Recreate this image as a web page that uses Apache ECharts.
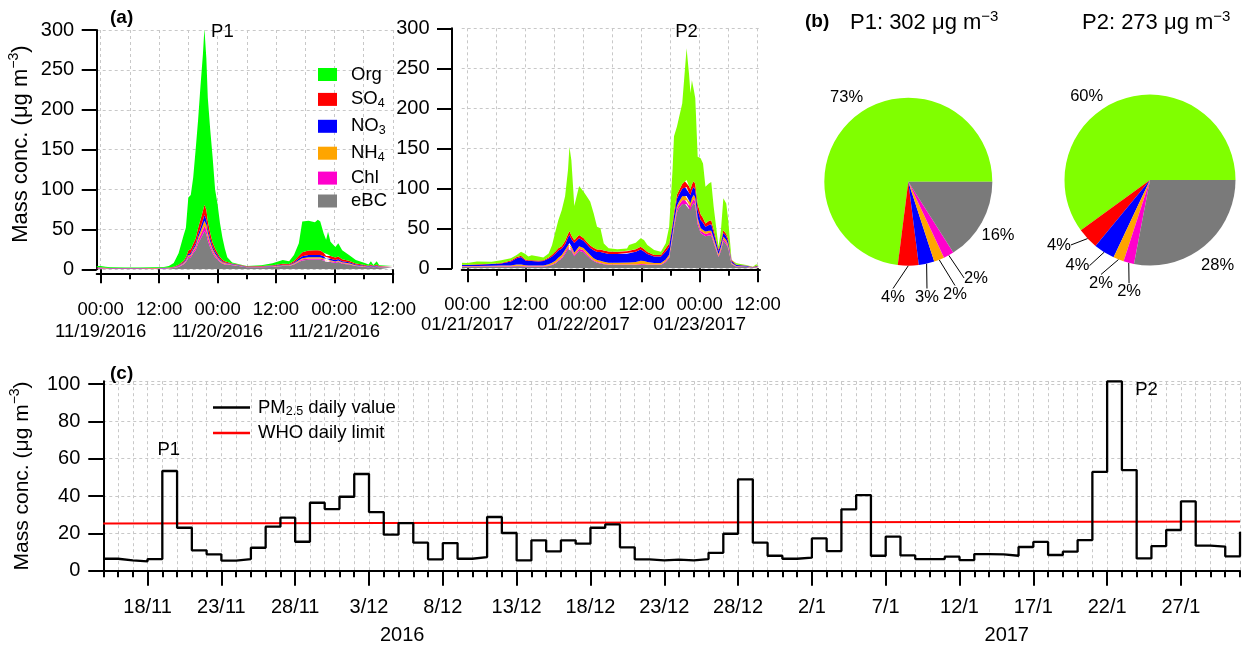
<!DOCTYPE html>
<html>
<head>
<meta charset="utf-8">
<script src="https://cdn.jsdelivr.net/npm/echarts@6/dist/echarts.min.js"></script>
<style>
  html, body { margin: 0; padding: 0; background: #fff; }
  #chart { width: 1242px; height: 647px; }
</style>
</head>
<body>
<div id="chart"></div>
<script>
// ---------------- data ----------------
// (a) P1 episode: hours after 11/19/2016 00:00, species in µg m-3
const hoursP1 = [-0.8, 0, 1, 2, 5, 8, 11, 13, 14, 15, 16, 17, 17.5, 18, 18.5, 19, 19.5, 20, 20.5, 21, 21.3, 21.7, 22, 22.5, 23, 23.5, 24, 24.5, 25, 25.5, 26, 27, 28, 30, 33, 35.3, 37.4, 38.7, 39.7, 40.7, 41.4, 42.7, 44, 44.6, 45.1, 45.8, 46.3, 46.7, 47.2, 48.2, 48.8, 49.6, 51, 52.4, 54.4, 55, 55.5, 56, 56.7, 57.2, 60];
const p1_eBC = [1.0, 1.0, 0.8, 0.6, 0.6, 0.6, 0.7, 0.8, 1.0, 1.5, 3, 6, 9, 14, 15, 20, 24, 32, 38, 44, 48, 44, 36, 27, 20, 15, 12, 9, 7, 6, 6, 5, 4.5, 2.5, 2.5, 3, 4, 4, 6, 9, 11, 12, 12, 12, 12, 11, 9, 10, 9, 8, 9, 7, 6, 4, 3, 2.5, 3, 2.5, 3, 2.5, 2.5];
const p1_Chl = [0.6, 0.6, 0.5, 0.4, 0.4, 0.4, 0.4, 0.4, 0.4, 0.5, 0.7, 1, 1.5, 2, 2, 2.5, 3, 4, 5, 6, 6.5, 6, 5, 4, 3, 2.5, 2, 1.5, 1, 1, 0.8, 0.6, 0.4, 0.3, 0.4, 0.5, 0.6, 0.6, 0.8, 1.2, 1.5, 1.5, 1.5, 1.5, 1.5, 1.5, 1.2, 1.3, 1.2, 1, 1.1, 0.9, 0.8, 0.6, 0.5, 0.4, 0.5, 0.4, 0.5, 0.4, 0.4];
const p1_NH4 = [0.2, 0.2, 0.2, 0.1, 0.1, 0.1, 0.1, 0.1, 0.2, 0.3, 0.5, 0.8, 1, 1.5, 1.5, 2, 2.5, 3.5, 4.5, 5.5, 6.5, 6, 5, 3.5, 2.5, 2, 1.5, 1, 1, 0.8, 0.6, 0.4, 0.3, 0.2, 0.3, 0.4, 0.5, 0.5, 0.7, 1.2, 1.5, 1.5, 1.5, 1.5, 1.5, 1.3, 1, 1.2, 1, 0.9, 1, 0.8, 0.7, 0.5, 0.4, 0.3, 0.4, 0.3, 0.4, 0.3, 0.3];
const p1_NO3 = [0.3, 0.3, 0.2, 0.2, 0.2, 0.2, 0.2, 0.2, 0.3, 0.4, 0.6, 1, 1.5, 2, 2, 2.5, 3, 4, 5, 6, 7, 6.5, 5, 4, 3, 2.5, 2, 1.5, 1, 0.8, 0.6, 0.5, 0.4, 0.3, 0.4, 0.5, 0.7, 0.6, 1, 2, 2.5, 3, 3, 3, 3, 2.5, 2, 2.2, 2, 1.8, 1.8, 1.5, 1.2, 0.8, 0.6, 0.5, 0.8, 0.5, 0.8, 0.4, 0.4];
const p1_SO4 = [0.4, 0.4, 0.3, 0.2, 0.2, 0.2, 0.2, 0.3, 0.3, 0.5, 0.8, 1.5, 2, 4, 4.5, 5, 6, 8, 10, 12, 13, 12, 10, 7, 5, 4, 3, 2.5, 2, 1.5, 1.2, 0.8, 0.6, 0.4, 0.5, 0.8, 1.2, 1, 1.8, 3.5, 5, 5.5, 6, 6, 5.5, 4.5, 3.5, 4, 3.5, 3, 3.2, 2.5, 2, 1.4, 1, 0.8, 1.3, 0.8, 1.3, 0.6, 0.6];
const p1_Org = [1.5, 1.5, 1.2, 1.0, 0.9, 0.9, 1.0, 1.2, 1.8, 4.8, 14.4, 31.7, 37, 66.5, 68, 83, 111.5, 135.5, 167.5, 196.5, 221, 190.5, 154, 129.5, 106.5, 74, 61.5, 42.5, 28, 15.9, 5.8, 1.2, 0.8, 0.3, 0.9, 2.3, 4.6, 3.3, 7.7, 15.7, 38.5, 37.5, 35, 38, 36.5, 24.2, 20.3, 28.3, 17.9, 13.3, 16.5, 11.3, 7.3, 4.3, 2, 1.5, 4, 1, 4, 0.8, 0.3];

// (a) P2 episode: hours after 01/21/2017 00:00
const hoursP2 = [-1.1, 0, 2, 5, 7, 9, 10.2, 11.1, 12, 12.6, 13.3, 14.7, 15.7, 16.8, 17.5, 18.2, 18.8, 19.5, 20.2, 20.8, 21.1, 21.5, 22.1, 23.1, 24, 24.7, 25.4, 26.1, 26.8, 27.5, 28.2, 29.2, 31, 33, 33.4, 34.8, 35.8, 36.5, 37.2, 38.6, 40, 41, 41.7, 42.4, 42.7, 43.3, 43.7, 44.4, 44.9, 45.3, 45.8, 46.1, 46.4, 46.8, 47.1, 47.6, 48.2, 48.7, 49.2, 49.9, 50.4, 50.9, 51.9, 52.4, 52.9, 53.5, 53.9, 54.6, 55.6, 57.6, 59, 59.7, 60.2];
const p2_eBC = [2, 2, 2, 2, 2, 2, 2.5, 2.5, 2, 2, 2, 2, 2, 3, 4, 6, 9, 12, 18, 24, 26, 22, 15, 22, 20, 16, 12, 9, 7, 6, 5, 4, 4, 4, 4, 4, 4.5, 4.5, 4, 4, 4, 8, 13, 38, 50, 70, 75, 80, 81, 80, 74, 72, 78, 82, 78, 55, 44, 42, 40, 41, 41, 32, 14, 22, 34, 30, 25, 5, 2, 1.5, 0.5, 1, 0.8];
const p2_Chl = [0.5, 0.5, 0.5, 0.5, 0.5, 0.5, 0.6, 0.6, 0.5, 0.5, 0.5, 0.5, 0.5, 0.6, 0.8, 1, 1.2, 1.5, 2, 2.5, 2.5, 2.5, 2, 2.5, 2.5, 2, 1.5, 1.2, 1, 1, 0.8, 0.8, 0.8, 0.8, 0.8, 0.8, 1, 1, 0.8, 0.6, 0.6, 1, 1.5, 2.5, 3, 4, 4, 5, 5, 5, 4.5, 4.5, 5, 5, 5, 4, 3, 3, 3, 3, 3, 2.5, 1.5, 2, 2.5, 2.5, 2, 0.8, 0.5, 0.4, 0.2, 0.3, 0.2];
const p2_NH4 = [0.5, 0.5, 0.5, 0.8, 1, 1, 1.5, 1.5, 1.2, 1, 1, 1, 1, 1.5, 2, 2.5, 3, 3, 3, 3, 3, 3, 2.5, 3, 3, 3, 3, 2.5, 2.5, 2.5, 2.5, 2.2, 2.2, 2.5, 2.5, 3, 4, 3.5, 3, 2, 2, 2, 2.5, 3, 3.5, 4, 4, 5, 5.5, 5.5, 5, 5, 5, 5, 5, 4, 3.5, 3, 3, 3, 3, 3, 2, 2.5, 3, 3, 2.5, 1, 0.5, 0.4, 0.2, 0.3, 0.2];
const p2_NO3 = [1, 1, 1.5, 2, 2.5, 5, 8, 9.5, 6, 5.5, 5.5, 5, 5.5, 7, 8, 9, 9, 8, 7, 9, 10, 9, 12, 10, 9, 9, 9, 10, 10, 11, 11, 11, 10.8, 11, 12, 13, 14, 12, 10, 8, 8, 10, 10, 9, 9, 9, 9, 9.5, 10.5, 11, 11, 10, 10, 10, 10, 10, 10, 9, 6, 7, 8, 7, 4, 5, 5, 4.5, 4, 2, 1, 0.8, 0.3, 1, 0.5];
const p2_SO4 = [0.5, 0.5, 0.5, 0.5, 0.7, 1.2, 1.5, 1.5, 1.2, 1.2, 1.2, 1.2, 1.2, 1.5, 2, 2.5, 3, 3, 4, 4.5, 5, 4.5, 3.5, 4, 3.5, 3, 3, 3, 3, 3, 3, 3, 2.9, 3, 3, 3, 3.5, 3, 2.5, 2, 2, 4, 4, 4, 4.5, 5, 5, 6, 7, 9, 8, 7, 7, 7, 7, 7, 7, 6, 4, 5, 5, 4, 2, 3, 3, 3, 3, 1.5, 0.5, 0.5, 0.3, 0.5, 0.3];
const p2_Org = [2.5, 2, 3.5, 2.5, 3.5, 3, 2.5, 5, 7, 4.5, 6, 5, 3.2, 5, 12, 25, 35, 45, 56, 80, 105.5, 94, 43, 61.5, 58, 56.6, 54.8, 43, 28.5, 26.5, 8.7, 4, 3, 3.5, 6.7, 8.2, 10.5, 11.4, 8.8, 6.3, 4.2, 6.2, 21, 66.4, 95, 85, 78, 100.5, 135, 164.5, 141, 120.5, 130, 114, 107.5, 59.5, 70, 68, 46, 47, 48, 28.5, 3.5, 13.5, 40, 38, 23.5, 0.1, 1.7, 0.4, 0.5, 2, 1];

// x-axis tick labels of (a): clock time every 12 h, date at each midnight
const clockLabels = ['00:00', '12:00', '00:00', '12:00', '00:00', '12:00'];
const p1DateLabels = ['11/19/2016', '11/20/2016', '11/21/2016'];
const p2DateLabels = ['01/21/2017', '01/22/2017', '01/23/2017'];

// (b) mass fractions (%) of the two peaks
const pieNames = ['Org', 'SO4', 'NO3', 'NH4', 'Chl', 'eBC'];
const pieP1 = [73, 4, 3, 2, 2, 16];
const pieP2 = [60, 4, 4, 2, 2, 28];
const pieTotals = [302, 273];

// (c) daily PM2.5, one value per day from 15/11/2016 to 31/1/2017
const pmDaily = [6.4, 5.5, 5.0, 6.25, 53.4, 23, 10.9, 8.75, 5.4, 6.25, 12.3, 23.6, 28.4, 15.5, 36.4, 33,
  39.6, 51.8, 31.4, 19.3, 25.5, 15, 6.1, 14.8, 6.4, 7.3, 28.75, 20.2, 5.5, 16.25, 10.4, 16.25, 14.5, 23, 24.8, 12.5, 6.1, 5.5, 5.9, 5.5, 6.25, 9.6, 19.8, 48.9, 15, 8, 6.4,
  7, 17.3, 10.5, 32.9, 40.5, 8, 18.2, 8.2, 6.25, 6.25, 7.5, 5.7, 8.9, 8.75, 8, 12.7, 15.4, 8.4, 10.2, 16.4, 52.9, 101.4, 53.9, 6.6, 13.2, 21.8, 37.1, 13.4, 12.9, 7.7, 20.9];
const whoLine = [25.3, 26.3];          // limit line, start and end of the period
const cTickDays = [3, 8, 13, 18, 23, 28, 33, 38, 43, 48, 53, 58, 63, 68, 73];
const cTickLabels = ['18/11', '23/11', '28/11', '3/12', '8/12', '13/12', '18/12', '23/12', '28/12', '2/1', '7/1', '12/1', '17/1', '22/1', '27/1'];
const yearDays = [20.25, 61.2];
const yearLabels = ['2016', '2017'];
const peakDays = [4, 68];

// ---------------- styling helpers ----------------
const FONT = '"Liberation Sans", Arial, Helvetica, sans-serif';
const colors = { Org: '#00ff00', SO4: '#ff0000', NO3: '#0000ff', NH4: '#ffa500', Chl: '#ff00cc', eBC: '#7f7f7f' };
const orgP2Color = '#80ff00';
const pieColors = ['#80ff00', '#ff0000', '#0000ff', '#ffa500', '#ff00cc', '#7a7a7a'];
const A_MAX = 300;

const dashed = { show: true, lineStyle: { color: '#c8c8c8', width: 1, type: [3, 3] } };
const blackLine = { show: true, onZero: false, lineStyle: { color: '#000', width: 2 } };
const noLabelOverlapRules = { showMinLabel: true, showMaxLabel: true, hideOverlap: false };

function subRich(size) {
  return {
    n: { fontFamily: FONT, fontSize: size, lineHeight: 22, color: '#000', fontWeight: 'normal' },
    s: { fontFamily: FONT, fontSize: 12.5, lineHeight: 12, padding: [9, 0, 1, 0], color: '#000', fontWeight: 'normal' }
  };
}
function supRich(size) {
  return {
    n: { fontFamily: FONT, fontSize: size, lineHeight: 28, color: '#000', fontWeight: 'normal' },
    p: { fontFamily: FONT, fontSize: 14, lineHeight: 14, padding: [0, 0, 14, 0], color: '#000', fontWeight: 'normal' }
  };
}
function chemLabel(name) {
  if (name === 'PM2.5 daily value') return '{n|PM}{s|2.5}{n| daily value}';
  const m = name.match(/^(\D+)(\d+)$/);
  return m ? '{n|' + m[1] + '}{s|' + m[2] + '}' : '{n|' + name + '}';
}
const yName = '{n|Mass conc. (μg m}{p|−3}{n|)}';

// hour axes of (a): thin 6 h ticks with grid lines, long 12 h ticks with clock labels, a date row
const shortHours = [0, 6, 12, 18, 24, 30, 36, 42, 48, 54, 60];
const longHours = [0, 12, 24, 36, 48, 60];
const dayHours = [0, 24, 48];
function hourAxes(gridIndex, min, max, dates, offset, clockMargin, dateMargin) {
  const common = { type: 'value', gridIndex, min, max, position: 'bottom', offset };
  return [
    { ...common,
      axisLine: blackLine,
      axisTick: { show: true, length: 6, lineStyle: { color: '#000', width: 2 }, customValues: shortHours },
      axisLabel: { show: false }, splitLine: dashed },
    { ...common,
      axisLine: { show: false },
      axisTick: { show: true, length: 14, lineStyle: { color: '#000', width: 2 }, customValues: longHours },
      axisLabel: { show: true, customValues: longHours, margin: clockMargin, lineHeight: 20, ...noLabelOverlapRules,
        fontFamily: FONT, fontSize: 18.5, color: '#000',
        formatter: v => clockLabels[longHours.indexOf(v)] },
      splitLine: { show: false } },
    { ...common,
      axisLine: { show: false }, axisTick: { show: false },
      axisLabel: { show: true, customValues: dayHours, margin: dateMargin, lineHeight: 20, ...noLabelOverlapRules,
        fontFamily: FONT, fontSize: 18.5, color: '#000',
        formatter: v => dates[dayHours.indexOf(v)] },
      splitLine: { show: false } }
  ];
}

function valueAxisA(gridIndex, offset, withName) {
  const ax = { type: 'value', gridIndex, min: 0, max: A_MAX, interval: 50, position: 'left', offset,
    axisLine: blackLine,
    axisTick: { show: true, length: 15, lineStyle: { color: '#000', width: 2 } },
    axisLabel: { margin: 22.5, fontFamily: FONT, fontSize: 20, color: '#000' },
    splitLine: dashed };
  if (withName) {
    Object.assign(ax, { name: yName, nameLocation: 'middle', nameGap: 62, nameRotate: 90,
      nameTextStyle: { rich: supRich(22), padding: [0, 0, 0, 11] } });
  }
  return ax;
}

const stackOrder = ['eBC', 'Chl', 'NH4', 'NO3', 'SO4', 'Org'];
const p1Data = { eBC: p1_eBC, Chl: p1_Chl, NH4: p1_NH4, NO3: p1_NO3, SO4: p1_SO4, Org: p1_Org };
const p2Data = { eBC: p2_eBC, Chl: p2_Chl, NH4: p2_NH4, NO3: p2_NO3, SO4: p2_SO4, Org: p2_Org };

function totals(hours, d) {
  return hours.map((_, i) => stackOrder.reduce((s, k) => s + d[k][i], 0));
}
// stacked areas; each row is [concentration, hour] so the concentration is the stacked dimension
function areaSeries(hours, d, xi, yi, stack, orgColor, peakLabel, peakOffset) {
  const tot = totals(hours, d);
  let pk = 0;
  tot.forEach((v, i) => { if (v > tot[pk]) pk = i; });
  return stackOrder.map(name => {
    const color = name === 'Org' ? orgColor : colors[name];
    const s = { name, type: 'line', stack, xAxisIndex: xi, yAxisIndex: yi,
      data: hours.map((h, i) => [d[name][i], h]), encode: { x: 1, y: 0 },
      symbol: 'none', showSymbol: false, silent: true, z: 3,
      lineStyle: { width: 0 }, itemStyle: { color }, areaStyle: { color, opacity: 1 } };
    if (name === 'Org') {
      // peak tag, anchored at the peak (held inside the axis range)
      s.markPoint = { symbol: 'rect', symbolSize: 0, silent: true,
        data: [{ coord: [hours[pk], Math.min(tot[pk], A_MAX)] }],
        label: { show: true, position: 'inside', offset: peakOffset, formatter: peakLabel,
          color: '#000', fontFamily: FONT, fontSize: 18.5 } };
    }
    return s;
  });
}

// label placement of the pie slices (shift from the end of the default leader line)
const pieLineLen = [[10, 14, 14, 14, 10, 10], [10, 10, 10, 12, 12, 10]];
const pieShift = [
  [[0.5, -13.5], [-15.3, 17.3], [-2.7, 19.7], [10.6, 21.2], [22.4, 13.9], [7.3, 8]],
  [[-33.8, 7.5], [-21.4, -0.4], [-21.3, 5.1], [-13.1, 12.3], [3.3, 17.2], [6.7, 11.5]]
];
function pieSeries(k, values, center, radius) {
  return {
    type: 'pie', center, radius, startAngle: 0, clockwise: false, avoidLabelOverlap: false, silent: true,
    data: values.map((v, i) => ({
      name: pieNames[i], value: v, itemStyle: { color: pieColors[i] },
      labelLine: { show: !(i === 0 || i === 5), length: pieLineLen[k][i], length2: 0 }
    })),
    label: { show: true, position: 'outside', formatter: '{c}%', fontFamily: FONT, fontSize: 16.5, color: '#000', distanceToLabelLine: 0 },
    labelLine: { lineStyle: { color: '#000', width: 1 } },
    labelLayout: p => {
      const r = p.labelRect;
      if (!r) return {};
      const ax = p.align === 'right' ? r.x + r.width : (p.align === 'center' ? r.x + r.width / 2 : r.x);
      const ay = r.y + r.height / 2;
      const d = pieShift[k][p.dataIndex];
      return { x: ax + d[0], y: ay + d[1], align: 'center', verticalAlign: 'middle' };
    },
    emphasis: { disabled: true }
  };
}

const titleStyle = { fontFamily: FONT, fontSize: 19, fontWeight: 'bold', color: '#000' };
function pieTitle(i, left) {
  return { text: '{n|P' + (i + 1) + ': ' + pieTotals[i] + ' μg m}{p|−3}', left, top: 9, padding: 0,
    textStyle: { fontWeight: 'normal',
      rich: { n: { fontFamily: FONT, fontSize: 22, lineHeight: 28, color: '#000', fontWeight: 'normal' },
              p: { fontFamily: FONT, fontSize: 15, lineHeight: 15, padding: [0, 0, 13, 0], color: '#000', fontWeight: 'normal' } } } };
}

const option = {
  animation: false,
  backgroundColor: '#fff',
  textStyle: { fontFamily: FONT },
  title: [
    { text: '(a)', left: 110, top: 8, padding: 0, textStyle: titleStyle },
    { text: '(b)', left: 805, top: 12, padding: 0, textStyle: titleStyle },
    { text: '(c)', left: 110, top: 364, padding: 0, textStyle: titleStyle },
    pieTitle(0, 850),
    pieTitle(1, 1082)
  ],
  legend: [
    { data: ['Org', 'SO4', 'NO3', 'NH4', 'Chl', 'eBC'], orient: 'vertical', left: 313, top: 60,
      icon: 'rect', itemWidth: 19, itemHeight: 13, itemGap: 3.9, selectedMode: false,
      formatter: chemLabel, textStyle: { padding: [0, 0, 0, 9], rich: subRich(18.5) } },
    { data: ['PM2.5 daily value', 'WHO daily limit'], orient: 'vertical', left: 208, top: 391,
      icon: 'rect', itemWidth: 37, itemHeight: 2.5, itemGap: 4.4, selectedMode: false,
      formatter: chemLabel, textStyle: { padding: [0, 0, 0, 3], rich: subRich(18.5) } }
  ],
  grid: [
    { left: 96.7, top: 30, width: 296.6, height: 239.3 },
    { left: 461.7, top: 28.3, width: 298.3, height: 240 },
    { left: 96, top: 381.2, width: 1144, height: 189.5 }
  ],
  xAxis: [
    ...hourAxes(0, -0.82, 60.1, p1DateLabels, 4, 26.7, 48.4),
    ...hourAxes(1, -1.16, 60.47, p2DateLabels, 1.5, 25.2, 45.2),
    { type: 'value', gridIndex: 2, min: 0, max: 77, interval: 1, position: 'bottom',
      axisLine: blackLine,
      axisTick: { show: true, length: 6.5, lineStyle: { color: '#000', width: 2 } },
      axisLabel: { show: false }, splitLine: dashed },
    { type: 'value', gridIndex: 2, min: 0, max: 77, position: 'bottom',
      axisLine: { show: false },
      axisTick: { show: true, length: 15, lineStyle: { color: '#000', width: 2 }, customValues: cTickDays },
      axisLabel: { customValues: cTickDays, margin: 27, fontFamily: FONT, fontSize: 20, color: '#000', ...noLabelOverlapRules,
        formatter: v => cTickLabels[cTickDays.indexOf(v)] },
      splitLine: { show: false } },
    { type: 'value', gridIndex: 2, min: 0, max: 77, position: 'bottom',
      axisLine: { show: false }, axisTick: { show: false },
      axisLabel: { customValues: yearDays, margin: 55, fontFamily: FONT, fontSize: 20, color: '#000', ...noLabelOverlapRules,
        formatter: v => yearLabels[yearDays.indexOf(v)] },
      splitLine: { show: false } }
  ],
  yAxis: [
    valueAxisA(0, 0, true),
    valueAxisA(1, 9.7, false),
    { type: 'value', gridIndex: 2, min: 0, max: 101.5, interval: 20, position: 'left',
      axisLine: blackLine,
      axisTick: { show: true, length: 15, lineStyle: { color: '#000', width: 2 }, customValues: [0, 20, 40, 60, 80, 100] },
      axisLabel: { customValues: [0, 20, 40, 60, 80, 100], margin: 23, fontFamily: FONT, fontSize: 20, color: '#000' },
      splitLine: dashed,
      name: yName, nameLocation: 'middle', nameGap: 61, nameRotate: 90,
      nameTextStyle: { rich: supRich(21) } },
    { type: 'value', gridIndex: 2, min: 0, max: 101.5, position: 'left',
      axisLine: { show: false }, axisLabel: { show: false },
      axisTick: { show: false, customValues: [101.5] }, splitLine: dashed }
  ],
  series: [
    ...areaSeries(hoursP1, p1Data, 0, 0, 'P1', colors.Org, 'P1', [18, 1.7]),
    ...areaSeries(hoursP2, p2Data, 3, 1, 'P2', orgP2Color, 'P2', [0, -16]),
    { name: 'PM2.5 daily value', type: 'line', step: 'end', xAxisIndex: 6, yAxisIndex: 2,
      data: pmDaily.map((v, i) => [i, v]), symbol: 'none', showSymbol: false, clip: false, silent: true, z: 4,
      lineStyle: { color: '#000', width: 2.3 }, itemStyle: { color: '#000' },
      markPoint: { symbol: 'rect', symbolSize: 0, silent: true,
        data: [
          { coord: [peakDays[0] + 0.5, pmDaily[peakDays[0]]], label: { formatter: 'P1', offset: [-1, -21] } },
          { coord: [peakDays[1] + 0.5, pmDaily[peakDays[1]]], label: { formatter: 'P2', offset: [32, 9] } }
        ],
        label: { show: true, position: 'inside', color: '#000', fontFamily: FONT, fontSize: 18.5 } } },
    { name: 'WHO daily limit', type: 'line', xAxisIndex: 6, yAxisIndex: 2,
      data: [[0, whoLine[0]], [pmDaily.length - 1, whoLine[1]]], symbol: 'none', showSymbol: false, silent: true, z: 3,
      lineStyle: { color: '#ff0000', width: 2 }, itemStyle: { color: '#ff0000' } },
    pieSeries(0, pieP1, [908.3, 181.7], 84),
    pieSeries(1, pieP2, [1150, 180], 85.5)
  ]
};

const chart = echarts.init(document.getElementById('chart'), null, { renderer: 'canvas', width: 1242, height: 647 });
chart.setOption(option);
</script>
</body>
</html>
